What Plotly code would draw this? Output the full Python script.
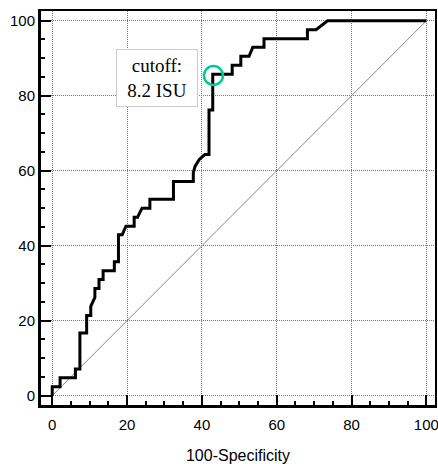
import plotly.graph_objects as go

# ROC curve vertices (100-Specificity, Sensitivity)
fpr = [0, 0, 2.1, 2.1, 6.2, 6.2, 7.4, 7.4, 9.2, 9.2, 10.3, 10.3, 11.4, 11.4, 12.5, 12.5,
       13.6, 13.6, 16.6, 16.6, 17.7, 17.7, 18.7, 19.7, 21.9, 21.9, 22.8, 24.0, 26.1, 26.1,
       32.4, 32.4, 37.7, 37.7, 38.2, 39.3, 40.8, 41.9, 41.9, 42.9, 42.9, 48.1, 48.1, 50.4,
       50.4, 52.6, 53.6, 56.6, 56.6, 68.2, 68.2, 70.5, 73.6, 100]
tpr = [0, 2.4, 2.4, 4.8, 4.8, 7.1, 7.1, 16.7, 16.7, 21.4, 21.4, 23.8, 26.2, 28.6, 28.6, 31.0,
       31.0, 33.3, 33.3, 35.7, 35.7, 42.9, 42.9, 45.2, 45.2, 47.6, 47.6, 50.0, 50.0, 52.4,
       52.4, 57.1, 57.1, 59.5, 61.2, 63.0, 64.3, 64.3, 76.2, 76.2, 85.7, 85.7, 88.1, 88.1,
       90.5, 90.5, 92.9, 92.9, 95.2, 95.2, 97.6, 97.6, 100, 100]

diag_x = [0, 100]
diag_y = [0, 100]

cutoff_x = [43.1]
cutoff_y = [85.4]
cutoff_text = "cutoff:<br>8.2 ISU"
ann_x, ann_y = 27.9, 84.6

tick_vals = [0, 20, 40, 60, 80, 100]
x_title = "100-Specificity"

X_RANGE = [-3.0, 102.3]
Y_RANGE = [-2.5, 102.6]

fig = go.Figure()
fig.add_trace(go.Scatter(x=diag_x, y=diag_y, mode="lines",
                         line=dict(color="#666666", width=0.8), hoverinfo="skip"))
fig.add_trace(go.Scatter(x=fpr, y=tpr, mode="lines",
                         line=dict(color="black", width=3), hoverinfo="skip"))
fig.add_trace(go.Scatter(x=cutoff_x, y=cutoff_y, mode="markers",
                         marker=dict(symbol="circle-open", size=19,
                                     line=dict(color="#12a845", width=2.5)),
                         hoverinfo="skip"))
fig.add_trace(go.Scatter(x=[None], y=[None], xaxis="x2", yaxis="y2", hoverinfo="skip"))

axis_font = dict(family="Liberation Sans, Arial", size=15, color="black")
grid = dict(showgrid=True, gridcolor="#777777", griddash="1px,1px", gridwidth=1)
minor = dict(dtick=5, tick0=0, ticks="inside", ticklen=4, tickwidth=1.5,
             tickcolor="black", showgrid=False)

fig.update_layout(
    width=438, height=464,
    margin=dict(l=41, r=3, t=11, b=59, autoexpand=False),
    paper_bgcolor="white", plot_bgcolor="white",
    showlegend=False,
    xaxis=dict(range=X_RANGE, tickvals=tick_vals, ticks="inside", ticklen=10,
               tickwidth=2, tickcolor="black", showline=True, linewidth=3,
               linecolor="black", zeroline=False, tickfont=axis_font,
               automargin=False, ticklabeloverflow="allow", ticklabelstandoff=4,
               title=dict(text=x_title, font=dict(family="Liberation Sans, Arial", size=16, color="black"),
                          standoff=18),
               minor=minor, **grid),
    yaxis=dict(range=Y_RANGE, tickvals=tick_vals, ticks="inside", ticklen=10,
               tickwidth=2, tickcolor="black", showline=True, linewidth=3,
               linecolor="black", zeroline=False, tickfont=axis_font,
               automargin=False, ticklabeloverflow="allow",
               minor=minor, **grid),
    xaxis2=dict(overlaying="x", side="top", range=X_RANGE, showline=True,
                linewidth=1.8, linecolor="black", showticklabels=False, ticks="",
                showgrid=False, zeroline=False, automargin=False),
    yaxis2=dict(overlaying="y", side="right", range=Y_RANGE, showline=True,
                linewidth=2, linecolor="black", showticklabels=False, ticks="",
                showgrid=False, zeroline=False, automargin=False),
)

fig.add_annotation(x=ann_x, y=ann_y, text=cutoff_text, showarrow=False,
                   font=dict(family="Liberation Serif, Times New Roman", size=19, color="black"),
                   bgcolor="white", bordercolor="#cccccc", borderwidth=1,
                   width=76, height=52, borderpad=2)

fig.write_html("out.html", config={"displayModeBar": False},
               post_script="document.body.style.margin='0';document.body.style.padding='0';")
